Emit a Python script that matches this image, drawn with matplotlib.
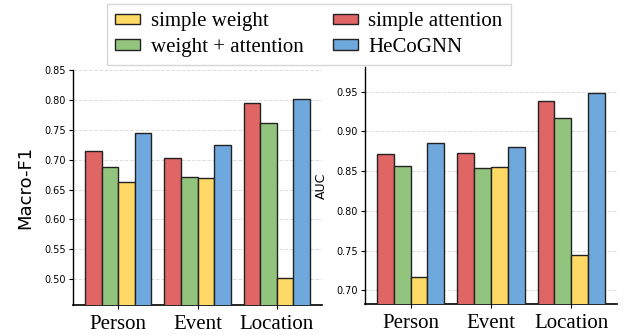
import numpy as np
import matplotlib.pyplot as plt
from matplotlib.patches import Patch

categories = ['Person', 'Event', 'Location']
methods = ['simple attention', 'weight + attention', 'simple weight', 'HeCoGNN']
colors = ['#E06666', '#93C47D', '#FFD966', '#6FA8DC']

# Macro-F1 values (rows follow methods)
f1_attention = [0.715, 0.702, 0.795]
f1_weight_att = [0.687, 0.671, 0.762]
f1_weight = [0.663, 0.670, 0.501]
f1_hecognn = [0.745, 0.725, 0.802]

# AUC values
auc_attention = [0.871, 0.873, 0.938]
auc_weight_att = [0.857, 0.854, 0.917]
auc_weight = [0.717, 0.855, 0.745]
auc_hecognn = [0.885, 0.880, 0.948]

f1 = [f1_attention, f1_weight_att, f1_weight, f1_hecognn]
auc = [auc_attention, auc_weight_att, auc_weight, auc_hecognn]

fig = plt.figure(figsize=(6.29, 3.35), dpi=100)
ax1 = fig.add_axes([0.116, 0.0896, 0.396, 0.701])
ax2 = fig.add_axes([0.580, 0.0925, 0.401, 0.708])

x = np.arange(len(categories))
w = 0.21
serif = ['Liberation Serif', 'DejaVu Serif']


def draw(ax, data, ylim, yticks, ylabel, ylabel_size):
    for i, vals in enumerate(data):
        ax.bar(x + (i - 1.5) * w, vals, w, color=colors[i],
               edgecolor='#222222', linewidth=1.0, zorder=3)
    ax.set_ylim(*ylim)
    ax.set_xlim(-0.57, 2.57)
    ax.set_yticks(yticks)
    ax.set_yticklabels([f'{t:.2f}' for t in yticks], fontsize=7)
    ax.set_xticks(x)
    ax.set_xticklabels(categories, fontsize=15, family=serif)
    ax.tick_params(axis='x', length=3, pad=4)
    ax.tick_params(axis='y', length=3, pad=2)
    ax.grid(axis='y', linestyle='--', color='#dddddd', linewidth=0.7, zorder=0)
    ax.spines['top'].set_visible(False)
    ax.spines['right'].set_visible(False)
    ax.spines['left'].set_linewidth(1.0)
    ax.spines['bottom'].set_linewidth(1.2)
    ax.set_ylabel(ylabel, fontsize=ylabel_size)


draw(ax1, f1, (0.4565, 0.85), np.arange(0.50, 0.851, 0.05), 'Macro-F1', 13)
draw(ax2, auc, (0.683, 0.981), np.arange(0.70, 0.951, 0.05), 'AUC', 9)
ax1.yaxis.set_label_coords(-0.155, 0.5)
ax2.yaxis.set_label_coords(-0.145, 0.5)

order = [2, 1, 0, 3]
handles = [Patch(facecolor=colors[i], edgecolor='#222222', linewidth=1.0) for i in order]
labels = [methods[i] for i in order]
fig.legend(handles, labels, loc='upper center', bbox_to_anchor=(0.491, 0.988),
           ncol=2, prop={'family': serif, 'size': 15}, frameon=True,
           fancybox=False, edgecolor='#cccccc', handlelength=1.2,
           handleheight=0.4, columnspacing=1.4, labelspacing=0.32,
           borderpad=0.4, handletextpad=0.5, borderaxespad=0)

fig.savefig('out.png', dpi=100)
